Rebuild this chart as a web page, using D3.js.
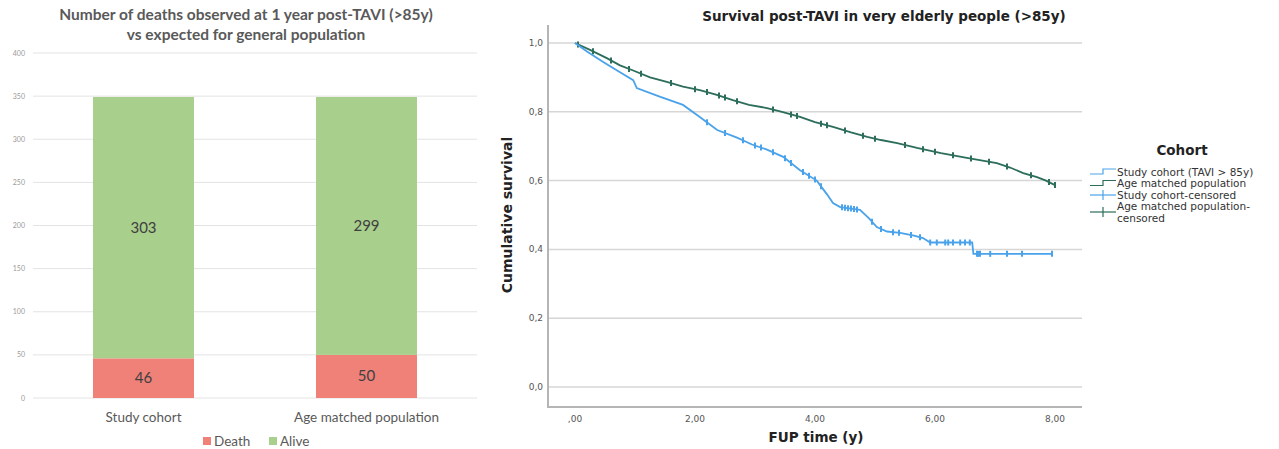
<!DOCTYPE html>
<html>
<head>
<meta charset="utf-8">
<script src="https://cdn.jsdelivr.net/npm/d3@7"></script>
<style>
  body { margin: 0; background: #fff; }
  svg { display: block; }
</style>
</head>
<body>
<script>
// bar chart data (left panel)
var barCategories = ["Study cohort", "Age matched population"];
var deathValues = [46, 50];
var aliveValues = [303, 299];
var barTicks = [0, 50, 100, 150, 200, 250, 300, 350, 400];

// Kaplan-Meier curves (right panel), [time, survival]
var studyCurve = [
  [0, 1.0], [0.2, 0.975], [0.47, 0.945], [0.75, 0.915], [0.97, 0.892], [1.03, 0.869],
  [1.4, 0.845], [1.8, 0.82], [2.08, 0.785], [2.37, 0.747], [2.7, 0.725], [2.95, 0.705],
  [3.2, 0.69], [3.47, 0.669], [3.75, 0.63], [4.03, 0.6], [4.2, 0.56], [4.3, 0.535],
  [4.42, 0.523], [4.75, 0.515], [4.9, 0.49], [5.03, 0.465], [5.2, 0.452], [5.42, 0.448],
  [5.65, 0.44], [5.8, 0.433], [5.92, 0.42], [6.62, 0.42], [6.64, 0.387], [7.95, 0.387]
];
var matchedCurve = [
  [0, 1.0], [0.25, 0.98], [0.53, 0.956], [0.75, 0.935], [0.97, 0.92], [1.25, 0.9],
  [1.53, 0.887], [1.8, 0.873], [2.08, 0.863], [2.35, 0.85], [2.63, 0.834], [2.9, 0.82],
  [3.2, 0.811], [3.45, 0.8], [3.75, 0.785], [4.0, 0.77], [4.3, 0.756], [4.6, 0.74],
  [4.87, 0.727], [5.1, 0.718], [5.37, 0.709], [5.7, 0.695], [6.1, 0.68], [6.53, 0.666],
  [7.03, 0.651], [7.25, 0.638], [7.47, 0.622], [7.7, 0.61], [7.85, 0.6], [8.0, 0.587]
];
var studyCensored = [2.2, 2.5, 2.8, 3.0, 3.1, 3.3, 3.5, 3.6, 3.8, 3.9, 4.0, 4.1, 4.45, 4.5,
  4.55, 4.6, 4.65, 4.7, 4.95, 5.1, 5.3, 5.4, 5.6, 5.75, 5.92, 6.03, 6.17, 6.22, 6.3, 6.42,
  6.5, 6.58, 6.7, 6.72, 6.75, 6.92, 7.2, 7.45, 7.95];
var matchedCensored = [0.05, 0.3, 0.6, 0.9, 1.1, 1.6, 2.0, 2.2, 2.4, 2.5, 2.7, 3.3, 3.6,
  3.7, 4.1, 4.2, 4.5, 4.8, 5.0, 5.5, 5.8, 6.0, 6.3, 6.6, 6.9, 7.2, 7.6, 7.9, 8.0];
var survTicks = [0, 0.2, 0.4, 0.6, 0.8, 1.0];
var timeTicks = [0, 2, 4, 6, 8];
var legendLabels = ["Study cohort (TAVI > 85y)", "Age matched population",
  "Study cohort-censored", "Age matched population-", "censored"];

var width = 1279, height = 449;
var svg = d3.select("body").append("svg")
  .attr("width", width)
  .attr("height", height);

// ---------- left: stacked bars ----------
var leftFont = "Lato, 'Open Sans', sans-serif";
var green = "#a9cf8d", red = "#ef8179";

var xBand = d3.scaleBand()
  .domain(barCategories)
  .range([33, 477])
  .paddingInner(0.547)
  .paddingOuter(0.269);

var yBar = d3.scaleLinear().domain([0, 400]).range([398, 53]);

var left = svg.append("g");

left.append("text")
  .attr("x", 246).attr("y", 20)
  .attr("text-anchor", "middle")
  .attr("font-family", leftFont).attr("font-size", 15.5).attr("font-weight", "bold")
  .attr("fill", "#595959")
  .text("Number of deaths observed at 1 year post-TAVI (>85y)");
left.append("text")
  .attr("x", 246).attr("y", 40)
  .attr("text-anchor", "middle")
  .attr("font-family", leftFont).attr("font-size", 15.5).attr("font-weight", "bold")
  .attr("fill", "#595959")
  .text("vs expected for general population");

left.selectAll(".grid")
  .data(barTicks)
  .enter()
  .append("line")
  .attr("x1", 33).attr("x2", 477)
  .attr("y1", d => yBar(d)).attr("y2", d => yBar(d))
  .attr("stroke", "#e3e3e3").attr("stroke-width", 1);

left.selectAll(".ytick")
  .data(barTicks)
  .enter()
  .append("text")
  .attr("x", 25).attr("y", d => yBar(d) + 2.5)
  .attr("text-anchor", "end")
  .attr("font-family", leftFont).attr("font-size", 7)
  .attr("fill", "#9a9a9a")
  .text(d => d);

barCategories.forEach(function(c, i) {
  left.append("rect")
    .attr("x", xBand(c)).attr("width", xBand.bandwidth())
    .attr("y", yBar(deathValues[i])).attr("height", yBar(0) - yBar(deathValues[i]))
    .attr("fill", red);
  left.append("rect")
    .attr("x", xBand(c)).attr("width", xBand.bandwidth())
    .attr("y", yBar(deathValues[i] + aliveValues[i]))
    .attr("height", yBar(deathValues[i]) - yBar(deathValues[i] + aliveValues[i]))
    .attr("fill", green);
  left.append("text")
    .attr("x", xBand(c) + xBand.bandwidth() / 2)
    .attr("y", yBar(deathValues[i] / 2) + 5)
    .attr("text-anchor", "middle")
    .attr("font-family", leftFont).attr("font-size", 15)
    .attr("fill", "#404040")
    .text(deathValues[i]);
  left.append("text")
    .attr("x", xBand(c) + xBand.bandwidth() / 2)
    .attr("y", yBar(deathValues[i] + aliveValues[i] / 2) + 5)
    .attr("text-anchor", "middle")
    .attr("font-family", leftFont).attr("font-size", 15)
    .attr("fill", "#404040")
    .text(aliveValues[i]);
  left.append("text")
    .attr("x", xBand(c) + xBand.bandwidth() / 2)
    .attr("y", 422)
    .attr("text-anchor", "middle")
    .attr("font-family", leftFont).attr("font-size", 13.5)
    .attr("fill", "#595959")
    .text(c);
});

// legend
[["Death", red, 203], ["Alive", green, 269]].forEach(function(l) {
  left.append("rect").attr("x", l[2]).attr("y", 437).attr("width", 8).attr("height", 8).attr("fill", l[1]);
  left.append("text").attr("x", l[2] + 11).attr("y", 446)
    .attr("font-family", leftFont).attr("font-size", 13.5)
    .attr("fill", "#595959").text(l[0]);
});

// ---------- right: survival curves ----------
var rightFont = "'DejaVu Sans', Verdana, sans-serif";
var blue = "#4aa3ea", teal = "#2c6d5b";

var xT = d3.scaleLinear().domain([0, 8]).range([575, 1055]);
var yS = d3.scaleLinear().domain([0, 1]).range([387, 43]);

var right = svg.append("g");

right.append("text")
  .attr("x", 884).attr("y", 21)
  .attr("text-anchor", "middle")
  .attr("font-family", rightFont).attr("font-size", 13.5).attr("font-weight", "bold")
  .attr("fill", "#222")
  .text("Survival post-TAVI in very elderly people (>85y)");

right.selectAll(".sgrid")
  .data(survTicks)
  .enter()
  .append("line")
  .attr("x1", 548).attr("x2", 1082)
  .attr("y1", d => yS(d)).attr("y2", d => yS(d))
  .attr("stroke", "#d6d6d6").attr("stroke-width", 1.5);

// axes lines
right.append("line").attr("x1", 548).attr("x2", 548).attr("y1", 25).attr("y2", 407)
  .attr("stroke", "#b5b5b5").attr("stroke-width", 2);
right.append("line").attr("x1", 547).attr("x2", 1082).attr("y1", 407).attr("y2", 407)
  .attr("stroke", "#b5b5b5").attr("stroke-width", 2);

var fmtS = d => d3.format(".1f")(d).replace(".", ",");
var fmtT = d => d === 0 ? ",00" : d3.format(".2f")(d).replace(".", ",");

right.selectAll(".stick")
  .data(survTicks)
  .enter()
  .append("text")
  .attr("x", 543).attr("y", d => yS(d) + 3)
  .attr("text-anchor", "end")
  .attr("font-family", rightFont).attr("font-size", 9)
  .attr("fill", "#555")
  .text(fmtS);

right.selectAll(".ttick")
  .data(timeTicks)
  .enter()
  .append("text")
  .attr("x", d => xT(d)).attr("y", 422)
  .attr("text-anchor", "middle")
  .attr("font-family", rightFont).attr("font-size", 9)
  .attr("fill", "#555")
  .text(fmtT);

right.append("text")
  .attr("x", 816).attr("y", 442)
  .attr("text-anchor", "middle")
  .attr("font-family", rightFont).attr("font-size", 13.5).attr("font-weight", "bold")
  .attr("fill", "#222")
  .text("FUP time (y)");

right.append("text")
  .attr("transform", "translate(512,215) rotate(-90)")
  .attr("text-anchor", "middle")
  .attr("font-family", rightFont).attr("font-size", 14).attr("font-weight", "bold")
  .attr("fill", "#222")
  .text("Cumulative survival");

var line = d3.line()
  .x(d => xT(d[0]))
  .y(d => yS(d[1]))
  .curve(d3.curveLinear);

// survival value at time t on a curve
function survAt(curve, t) {
  var i = d3.bisector(d => d[0]).right(curve, t) - 1;
  if (i < 0) i = 0;
  if (i < curve.length - 1) {
    var a = curve[i], b = curve[i + 1];
    return a[1] + (b[1] - a[1]) * (t - a[0]) / (b[0] - a[0]);
  }
  return curve[i][1];
}

function drawCurve(curve, censored, color, w) {
  right.append("path")
    .datum(curve)
    .attr("d", line)
    .attr("fill", "none")
    .attr("stroke", color)
    .attr("stroke-width", w);
  right.selectAll(null)
    .data(censored)
    .enter()
    .append("line")
    .attr("x1", d => xT(d)).attr("x2", d => xT(d))
    .attr("y1", d => yS(survAt(curve, d)) - 3)
    .attr("y2", d => yS(survAt(curve, d)) + 3)
    .attr("stroke", color)
    .attr("stroke-width", 2);
}

drawCurve(matchedCurve, matchedCensored, teal, 1.8);
drawCurve(studyCurve, studyCensored, blue, 1.8);

// legend
right.append("text")
  .attr("x", 1182).attr("y", 155)
  .attr("text-anchor", "middle")
  .attr("font-family", rightFont).attr("font-size", 13.5).attr("font-weight", "bold")
  .attr("fill", "#222")
  .text("Cohort");

var legY = [172, 183.5, 195, 206.5, 218];
var legColors = [blue, teal, blue, teal];
legendLabels.forEach(function(t, i) {
  right.append("text")
    .attr("x", 1117).attr("y", legY[i] + 3.5)
    .attr("font-family", rightFont).attr("font-size", 10.5)
    .attr("fill", "#333")
    .text(t);
});
// step symbols
[0, 1].forEach(function(i) {
  var y = legY[i];
  right.append("path")
    .attr("d", `M1090,${y + 2} H1103 V${y - 3} H1116`)
    .attr("fill", "none").attr("stroke", legColors[i]).attr("stroke-width", 1.2);
});
// censored symbols
[[2, 195], [3, 212]].forEach(function(p) {
  var y = p[1];
  right.append("line").attr("x1", 1090).attr("x2", 1116).attr("y1", y).attr("y2", y)
    .attr("stroke", legColors[p[0]]).attr("stroke-width", 1.2);
  right.append("line").attr("x1", 1103).attr("x2", 1103).attr("y1", y - 5).attr("y2", y + 5)
    .attr("stroke", legColors[p[0]]).attr("stroke-width", 1.2);
});
</script>
</body>
</html>
